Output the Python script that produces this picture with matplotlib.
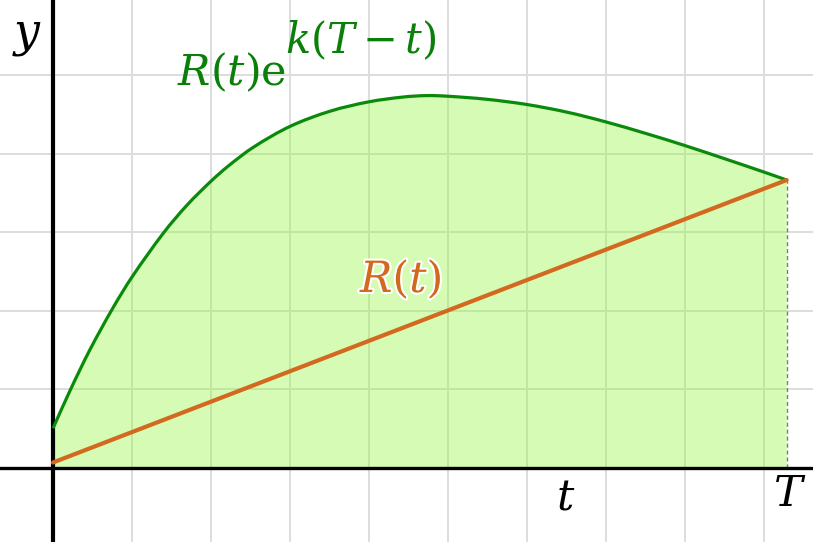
import matplotlib
matplotlib.use("Agg")
import matplotlib.pyplot as plt
import matplotlib.patheffects as pe
from matplotlib.path import Path
from matplotlib.patches import PathPatch

plt.rcParams['mathtext.fontset'] = 'dejavuserif'

# Curve R(t)e^{k(T-t)} (grid units)
t_curve = [0.0, 0.224, 0.468, 0.756, 1.0, 1.396, 1.696, 2.0, 2.219, 2.535,
           3.0, 3.506, 4.0, 4.434, 4.730, 4.996, 5.490, 5.996, 6.503, 7.0,
           7.515, 8.0, 8.528, 9.0, 9.287]
y_curve = [0.505, 1.003, 1.506, 2.032, 2.430, 2.987, 3.344, 3.649, 3.842, 4.080,
           4.346, 4.539, 4.659, 4.720, 4.738, 4.730, 4.691, 4.625, 4.528, 4.403,
           4.253, 4.102, 3.926, 3.765, 3.664]
# Line R(t)
t_line = [0.0, 9.287]
y_line = [0.07, 3.664]
T_val = 9.287


def smooth_path_vertices(xs, ys):
    """Cubic Bezier control points through the sampled points (Path CURVE4)."""
    n = len(xs)
    m = []
    for i in range(n):
        if i == 0:
            m.append((ys[1] - ys[0]) / (xs[1] - xs[0]))
        elif i == n - 1:
            m.append((ys[-1] - ys[-2]) / (xs[-1] - xs[-2]))
        else:
            m.append((ys[i + 1] - ys[i - 1]) / (xs[i + 1] - xs[i - 1]))
    verts = [(xs[0], ys[0])]
    codes = [Path.MOVETO]
    for i in range(n - 1):
        h = xs[i + 1] - xs[i]
        verts += [(xs[i] + h / 3, ys[i] + m[i] * h / 3),
                  (xs[i + 1] - h / 3, ys[i + 1] - m[i + 1] * h / 3),
                  (xs[i + 1], ys[i + 1])]
        codes += [Path.CURVE4] * 3
    return verts, codes


fig = plt.figure(figsize=(8.13, 5.42), dpi=100)
ax = fig.add_axes([0, 0, 1, 1])
ax.set_xlim(-53/79, 760/79)
ax.set_ylim(-74/78.6, 468/78.6)
ax.axis('off')

# grid
for gx in range(1, 10):
    ax.axvline(gx, color='#dddddd', lw=1.4, zorder=0)
for gy in range(1, 6):
    ax.axhline(gy, color='#dddddd', lw=1.4, zorder=0)

verts, codes = smooth_path_vertices(t_curve, y_curve)

# filled area under the curve
fverts = [(t_curve[0], 0)] + [(t_curve[0], y_curve[0])] + verts[1:] + \
         [(t_curve[-1], 0), (t_curve[0], 0)]
fcodes = [Path.MOVETO, Path.LINETO] + codes[1:] + [Path.LINETO, Path.CLOSEPOLY]
ax.add_patch(PathPatch(Path(fverts, fcodes), facecolor='#99f545', alpha=0.4,
                       edgecolor='none', zorder=1))
ax.plot([0, 0], [0, y_curve[0]], color='#3d7a10', lw=1.5, zorder=2)
ax.plot([T_val, T_val], [0, y_curve[-1]], color='#6b8e4e', lw=1.0,
        ls=(0, (3, 2)), zorder=2)

# axes
ax.axhline(0, color='black', lw=2.4, zorder=3)
ax.axvline(0, color='black', lw=3.0, zorder=3)

# curve and line
ax.add_patch(PathPatch(Path(verts, codes), facecolor='none',
                       edgecolor='#0a8a0a', lw=2.3, zorder=4))
ax.plot(t_line, y_line, color='#d2691e', lw=3.0, zorder=5,
        solid_capstyle='round')


def dx(px):
    return (px - 53) / 79


def dy(py):
    return (468 - py) / 78.6


ax.text(dx(177), dy(85), r'$R(t)\mathrm{e}$', color='#0a800a', fontsize=31,
        ha='left', va='baseline', zorder=6)
ax.text(dx(285), dy(53), r'$k(T-t)$', color='#0a800a', fontsize=30,
        ha='left', va='baseline', zorder=6)
ax.text(dx(360), dy(292), r'$R(t)$', color='#d2691e', fontsize=31,
        ha='left', va='baseline', zorder=6,
        path_effects=[pe.withStroke(linewidth=3, foreground='white')])
ax.text(dx(12), dy(45), r'$y$', color='black', fontsize=33,
        ha='left', va='baseline', zorder=6)
ax.text(dx(566), dy(509), r'$t$', color='black', fontsize=31,
        ha='center', va='baseline', zorder=6)
ax.text(dx(790), dy(506), r'$T$', color='black', fontsize=31,
        ha='center', va='baseline', zorder=6)

fig.savefig('out.png', dpi=100)
